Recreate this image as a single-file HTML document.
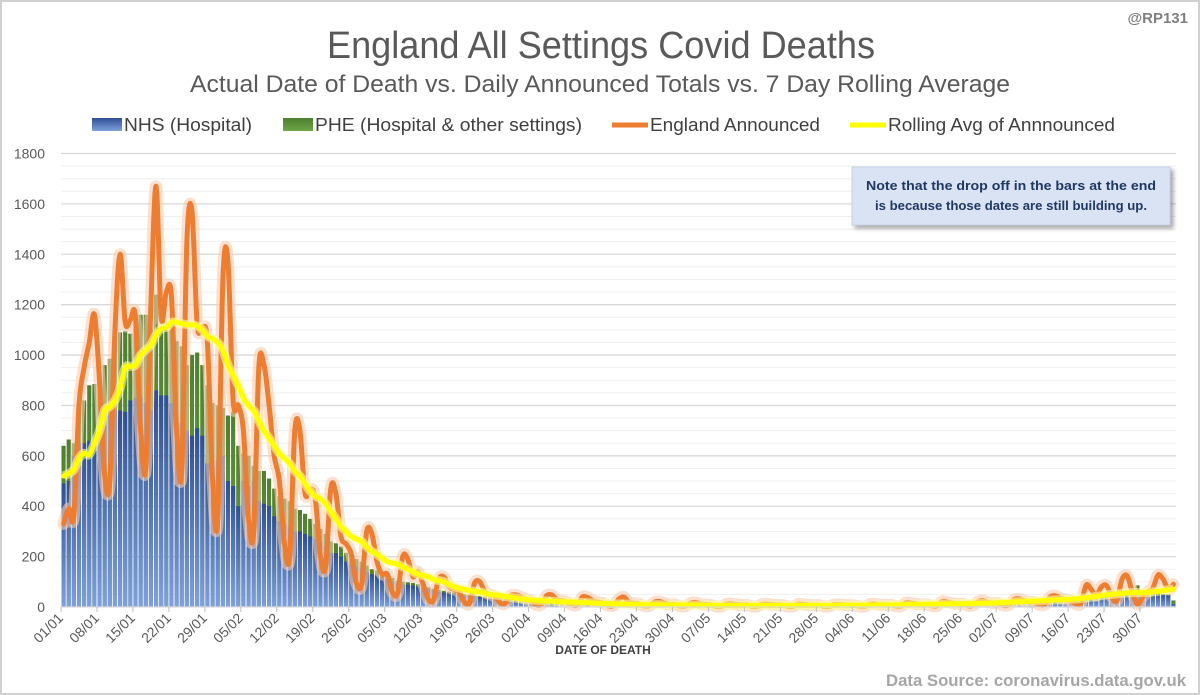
<!DOCTYPE html>
<html><head><meta charset="utf-8"><style>html,body{margin:0;padding:0;background:#fff}svg{display:block}text{font-family:"Liberation Sans",sans-serif}</style></head>
<body>
<svg id="chart" width="1200" height="695" viewBox="0 0 1200 695" xmlns="http://www.w3.org/2000/svg">
<defs>
<linearGradient id="gBlue" x1="0" y1="0" x2="0" y2="1"><stop offset="0" stop-color="#2e4f93"/><stop offset="1" stop-color="#7fa0dc"/></linearGradient>
<linearGradient id="gGreen" x1="0" y1="0" x2="0" y2="1"><stop offset="0" stop-color="#4f7f2f"/><stop offset="1" stop-color="#6ea645"/></linearGradient>
<filter id="shadow" x="-10%" y="-10%" width="130%" height="140%"><feDropShadow dx="3" dy="3" stdDeviation="2" flood-color="#000" flood-opacity="0.35"/></filter>
</defs>
<rect x="1" y="1" width="1198" height="693" fill="#fff" stroke="#d0d0d0" stroke-width="2"/>
<text x="601" y="58" text-anchor="middle" font-size="38" fill="#595959" textLength="548" lengthAdjust="spacingAndGlyphs">England All Settings Covid Deaths</text>
<text x="600" y="92" text-anchor="middle" font-size="24" fill="#595959" textLength="820" lengthAdjust="spacingAndGlyphs">Actual Date of Death vs. Daily Announced Totals vs. 7 Day Rolling Average</text>
<text x="1188" y="23" text-anchor="end" font-size="15" font-weight="bold" fill="#7f7f7f">@RP131</text>
<g>
<g><rect x="92" y="118" width="30" height="13" fill="url(#gBlue)"/><text x="124" y="131" font-size="18" fill="#404040" textLength="128" lengthAdjust="spacingAndGlyphs">NHS (Hospital)</text></g>
<g><rect x="283" y="118" width="30" height="13" fill="url(#gGreen)"/><text x="315" y="131" font-size="18" fill="#404040" textLength="267" lengthAdjust="spacingAndGlyphs">PHE (Hospital &amp; other settings)</text></g>
<g><line x1="612" y1="125" x2="648" y2="125" stroke="#ed7d31" stroke-width="5"/><text x="650" y="131" font-size="18" fill="#404040" textLength="170" lengthAdjust="spacingAndGlyphs">England Announced</text></g>
<g><line x1="850" y1="125" x2="886" y2="125" stroke="#ffff00" stroke-width="5"/><text x="888" y="131" font-size="18" fill="#404040" textLength="227" lengthAdjust="spacingAndGlyphs">Rolling Avg of Annnounced</text></g>
</g>
<g id="grid"></g><g id="yaxis"></g><g id="bars"></g><g id="lines"></g><g id="xaxis"></g>
<text x="603" y="654" text-anchor="middle" font-size="12" font-weight="bold" fill="#404040">DATE OF DEATH</text>
<text x="1186" y="686" text-anchor="end" font-size="17" font-weight="bold" fill="#a6a6a6" textLength="300" lengthAdjust="spacingAndGlyphs">Data Source: coronavirus.data.gov.uk</text>
<g>
<rect x="852" y="167" width="318" height="58" fill="#dae3f3" stroke="#c5d3ea" filter="url(#shadow)"/>
<text x="1011" y="190" text-anchor="middle" font-size="13" font-weight="bold" fill="#1f3864" textLength="290" lengthAdjust="spacingAndGlyphs">Note that the drop off in the bars at the end</text>
<text x="1011" y="210" text-anchor="middle" font-size="13" font-weight="bold" fill="#1f3864" textLength="272" lengthAdjust="spacingAndGlyphs">is because those dates are still building up.</text>
</g>
</svg>
<script>
const tickLabels=["01/01","08/01","15/01","22/01","29/01","05/02","12/02","19/02","26/02","05/03","12/03","19/03","26/03","02/04","09/04","16/04","23/04","30/04","07/05","14/05","21/05","28/05","04/06","11/06","18/06","25/06","02/07","09/07","16/07","23/07","30/07"];
const yTicks=[0,200,400,600,800,1000,1200,1400,1600,1800];
const announced=[330,390,360,800,950,1050,1160, 900,520,500,1100,1400,1130,1140, 1150,700,550,1200,1670,1150,1250, 1230,700,540,1450,1570,1120,1110, 1050,500,350,1300,1370,820,800, 700,350,300,950,960,800,600, 500,250,200,700,700,450,470, 430,200,160,470,450,280,250, 210,95,90,300,290,180,130, 130,60,55,200,190,120,140, 90,30,28,110,120,80,70, 60,20,15,95,100,60,50, 40,15,15,45,48,40,30, 25,8,10,45,48,30,25, 20,8,8,40,38,25,20, 15,5,5,30,40,20,15, 12,4,4,20,22,15,10, 10,3,3,15,18,12,10, 8,2,2,12,14,10,8, 8,2,2,12,12,9,8, 7,2,2,12,10,8,7, 7,2,2,10,10,8,7, 6,2,2,12,12,9,8, 8,3,3,18,16,12,10, 10,4,4,22,20,15,12, 12,5,6,22,25,18,15, 15,6,8,30,32,25,20, 20,8,10,40,45,35,30, 25,12,14,87,70,45,80, 85,40,25,110,123,60,10, 40,60,75,127,110,70,90];
const rollingAvg=[520,530,545,590,610,605,650, 700,780,795,820,870,950,955, 960,1000,1020,1040,1080,1105,1110, 1130,1130,1125,1120,1120,1115,1100, 1075,1065,1050,1020,960,920,880, 830,800,780,740,700,670,640, 610,590,570,540,520,490,460, 440,430,410,380,350,320,300, 280,270,260,240,220,210,195, 180,175,170,160,150,140,130, 125,120,110,105,100,90,80, 75,70,65,62,60,55,50, 48,45,42,38,35,32,30, 28,26,25,24,23,22,21, 20,20,19,18,17,16,15, 14,14,13,12,12,11,10, 10,10,9,9,9,8,8, 8,8,8,7,7,7,7, 7,6,6,6,6,6,6, 6,6,6,6,6,6,6, 6,6,6,6,6,6,6, 6,6,6,6,7,7,7, 7,7,7,7,8,8,8, 8,9,9,9,10,10,10, 11,11,12,12,12,13,13, 13,14,14,15,15,16,16, 17,18,19,20,21,22,23, 24,25,26,27,28,29,30, 31,32,34,36,39,42,45, 48,50,52,54,56,57,57, 57,58,60,62,65,68,71];
const pheTotal=[640,665,650,820,820,880,885, 925,960,985,1040,1090,1095,1085, 1165,1160,1160,1100,1240,1110,1100, 1100,1055,1035,960,1000,1010,960, 880,810,800,790,760,775,640, 610,600,560,540,540,510,470, 440,430,420,390,385,370,350, 330,310,290,260,253,240,215, 200,190,180,165,150,145,135, 125,115,105,100,98,95,90, 85,78,72,68,64,61,58, 55,50,48,46,44,42,40, 38,36,34,32,30,28,26, 24,22,20,19,18,17,16, 15,14,13,12,12,11,10, 10,9,9,8,8,8,7, 7,7,6,6,6,5,5, 5,5,5,5,5,5,5, 5,5,5,4,4,4,4, 4,4,4,4,4,4,4, 4,4,4,4,4,4,4, 4,4,4,4,4,4,5, 5,5,5,5,5,5,5, 5,5,6,6,6,7,7, 7,8,8,9,9,10,10, 11,11,12,12,13,14,14, 15,16,17,18,19,20,22, 23,25,27,28,30,32,33, 35,38,40,44,46,48,50, 52,55,60,62,63,65,86, 65,62,63,60,52,50,26];
const nhsHospital=[490,500,600,650,650,660,660, 690,720,760,780,780,775,820, 830,835,810,780,860,840,840, 810,735,730,700,680,710,680, 570,560,580,600,500,480,400, 500,480,500,420,410,400,360, 340,330,320,300,300,290,280, 270,260,240,215,214,200,180, 170,160,155,140,130,125,118, 110,100,92,90,88,85,80, 75,70,65,60,57,55,52, 50,45,43,41,40,38,36, 34,32,30,29,27,25,23, 21,20,18,17,16,15,14, 13,12,11,11,10,10,9, 9,8,8,7,7,7,6, 6,6,5,5,5,4,4, 4,4,4,4,4,4,4, 4,4,4,3,3,3,3, 3,3,3,3,3,3,3, 3,3,3,3,3,3,3, 3,3,3,3,3,3,4, 4,4,4,4,4,4,4, 4,4,5,5,5,6,6, 6,7,7,8,8,9,9, 10,10,11,11,12,13,13, 14,15,16,17,18,19,20, 21,23,25,26,28,30,31, 33,36,38,42,44,46,48, 50,52,57,59,60,62,63, 62,60,60,58,50,48,12];

const NS='http://www.w3.org/2000/svg';
const X0=61,X1=1176,Y0=607,Y1=153.5,YMAX=1800;
const N=announced.length;
const bw=(X1-X0)/N;
function xL(i){return X0+i*bw;}
function xC(i){return X0+(i+0.5)*bw;}
function yS(v){return Y0-(v/YMAX)*(Y0-Y1);}
function mk(tag,attrs,parent){const e=document.createElementNS(NS,tag);for(const k in attrs)e.setAttribute(k,attrs[k]);parent.appendChild(e);return e;}
const grid=document.getElementById('grid'),yax=document.getElementById('yaxis'),bars=document.getElementById('bars'),lines=document.getElementById('lines'),xax=document.getElementById('xaxis');
for(let v=50;v<YMAX;v+=50){if(v%200===0)continue;const l=mk('line',{x1:X0,x2:X1,y1:yS(v),y2:yS(v),stroke:'#efefef','stroke-width':1},grid);

}
yTicks.forEach(v=>{if(v>0){const l=mk('line',{x1:X0,x2:X1,y1:yS(v),y2:yS(v),stroke:'#d9d9d9','stroke-width':1.3},grid);

}
const t=mk('text',{x:45,y:yS(v)+5,'text-anchor':'end','font-size':14,fill:'#595959'},yax);t.textContent=v;

});
for(let i=0;i<N;i++){
 const b=mk('rect',{x:xL(i)+0.5,y:yS(pheTotal[i]),width:bw-1,height:Math.max(0,Y0-yS(pheTotal[i])),fill:'url(#gGreen)'},bars);
 
 
 const n=mk('rect',{x:xL(i)+0.5,y:yS(nhsHospital[i]),width:bw-1,height:Math.max(0,Y0-yS(nhsHospital[i])),fill:'url(#gBlue)'},bars);
 
 
}
function smooth(arr){const p=arr.map((v,i)=>[xC(i),yS(v)]);let d='M'+p[0][0].toFixed(1)+','+p[0][1].toFixed(1);
for(let i=0;i<p.length-1;i++){const a=p[i-1]||p[i],b=p[i],c=p[i+1],e=p[i+2]||c;
const c1=[b[0]+(c[0]-a[0])/6,b[1]+(c[1]-a[1])/6],c2=[c[0]-(e[0]-b[0])/6,c[1]-(e[1]-b[1])/6];
d+=' C'+c1[0].toFixed(1)+','+c1[1].toFixed(1)+' '+c2[0].toFixed(1)+','+c2[1].toFixed(1)+' '+c[0].toFixed(1)+','+c[1].toFixed(1);}return d;}
const da=smooth(announced);
const g1=mk('path',{d:da,fill:'none',stroke:'#f8cbad','stroke-width':12,'stroke-opacity':0.6,'stroke-linejoin':'round','stroke-linecap':'round'},lines);


const l1=mk('path',{d:da,fill:'none',stroke:'#ed7d31','stroke-width':5,'stroke-linejoin':'round','stroke-linecap':'round'},lines);


const dr=smooth(rollingAvg);
const g2=mk('path',{d:dr,fill:'none',stroke:'#ffff99','stroke-width':9,'stroke-opacity':0.6,'stroke-linejoin':'round'},lines);


const l2=mk('path',{d:dr,fill:'none',stroke:'#ffff00','stroke-width':5,'stroke-linejoin':'round','stroke-linecap':'round'},lines);


const ax=mk('line',{x1:X0,x2:X1,y1:Y0,y2:Y0,stroke:'#d9d9d9','stroke-width':1.3},xax);


tickLabels.forEach((lab,k)=>{const x=xL(k*7);
 const tk=mk('line',{x1:x,x2:x,y1:Y0,y2:Y0+5,stroke:'#bfbfbf'},xax);
 
 
 const t=mk('text',{x:x+3,y:Y0+12,'text-anchor':'end','font-size':14,fill:'#595959',transform:'rotate(-45 '+(x+3)+' '+(Y0+12)+')'},xax);t.textContent=lab;
 
 
});
</script>
</body></html>
